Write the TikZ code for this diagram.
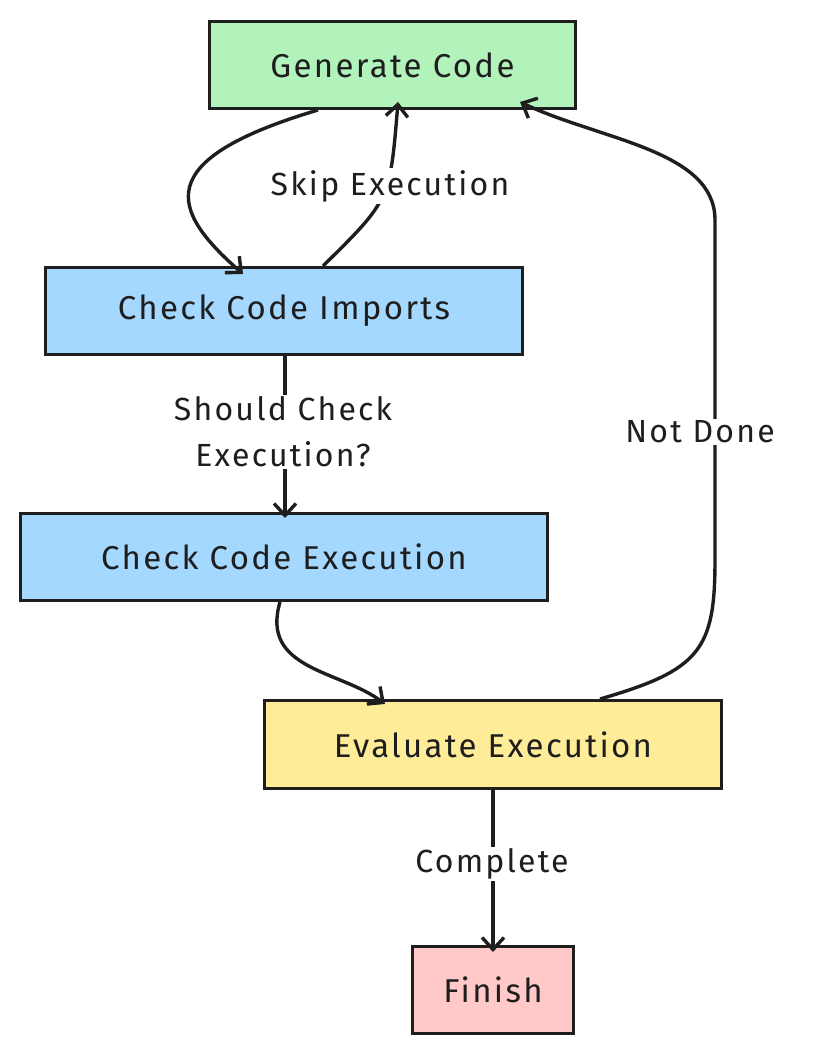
\documentclass[tikz,border=0pt]{standalone}
\usepackage{fontspec}
\setmainfont{Fira Sans}[LetterSpace=7]
\usetikzlibrary{arrows.meta,positioning}
\definecolor{gengreen}{HTML}{B2F2BB}
\definecolor{chkblue}{HTML}{A5D8FF}
\definecolor{evalyellow}{HTML}{FFEC99}
\definecolor{finpink}{HTML}{FFC9C9}
\definecolor{ink}{HTML}{1E1E1E}
\tikzset{
  stepbox/.style={draw=ink, line width=3pt, anchor=north west, inner sep=0pt,
    font=\fontsize{33}{38}\selectfont, text=ink},
  flow/.style={draw=ink, line width=3.4pt, -{Straight Barb[length=12pt,width=22pt]}},
  lbl/.style={font=\fontsize{32}{46}\selectfont, text=ink, fill=white, align=center, inner sep=2pt}
}
\begin{document}
\begin{tikzpicture}[x=1pt,y=-1pt]
	\useasboundingbox (0,0) rectangle (813,1054);
	
	% boxes
	\node[stepbox, fill=gengreen, minimum width=366pt, minimum height=87pt] (gen) at (208,20) {Generate Code};
	\node[stepbox, fill=chkblue, minimum width=477pt, minimum height=87pt] (imp) at (44,266) {Check Code Imports};
	\node[stepbox, fill=chkblue, minimum width=527pt, minimum height=87pt] (exe) at (19,512) {Check Code Execution};
	\node[stepbox, fill=evalyellow, minimum width=457pt, minimum height=88pt] (eva) at (263,699) {Evaluate Execution};
	\node[stepbox, fill=finpink, minimum width=161pt, minimum height=87pt] (fin) at (411,945) {Finish};
	
	% generate -> imports
	\draw[flow] ([xshift=110pt]gen.south west) .. controls (150,160) and (170,210) .. ([xshift=199pt,yshift=-8pt]imp.north west);
	% imports -> generate
	\draw[flow] ([xshift=279pt]imp.north west) .. controls (390,200) .. ([xshift=190pt,yshift=8pt]gen.south west);
	\node[lbl] (skip) at (390,186) {Skip Execution};
	
	% imports -> execution
	\draw[flow] ([xshift=241pt]imp.south west) -- ([xshift=266pt,yshift=-6pt]exe.north west);
	\node[lbl] (should) at (283,432) {Should Check\\Execution?};
	
	% execution -> evaluate
	\draw[flow] ([xshift=261pt]exe.south west) .. controls (260,670) and (340,670) .. ([xshift=122pt,yshift=-5pt]eva.north west);
	
	% evaluate -> generate
	\draw[flow] ([xshift=337pt]eva.north west) .. controls (700,670) and (715,650) .. (715,560)
	   -- (715,220) .. controls (715,150) and (600,140) .. ([xshift=312pt,yshift=8pt]gen.south west);
	\node[lbl] (notdone) at (700,432) {Not Done};
	
	% evaluate -> finish
	\draw[flow] (eva.south -| fin.north) -- ([yshift=-7pt]fin.north);
	\node[lbl] (compl) at (492,864) {Complete};
	
\end{tikzpicture}
\end{document}
